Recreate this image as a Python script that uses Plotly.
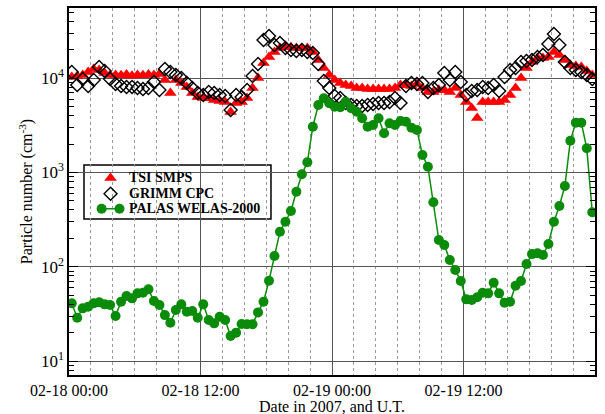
import pandas as pd
import plotly.graph_objects as go

# ---- data (30-min resolution, starting 2007-02-18 00:15) ----
t_start = "2007-02-18 00:15"
n_points = 96
times = pd.date_range(t_start, periods=n_points, freq="30min")

tsi_smps = [10250, 10500, 10760, 11580, 12460, 12160, 11300, 10760, 10800, 10700,
            10900, 10600, 10800, 10700, 10900, 10800, 11030, 9520, 6930, 9520,
            8850, 8030, 6930, 6290, 6140, 6100, 5840, 5700, 5570, 4360,
            5430, 5570, 6140, 7830, 10000, 14420, 16700, 18870, 20800, 21310,
            21200, 20800, 20700, 20800, 18870, 15520, 12770, 10760, 9520, 8850,
            8430, 8230, 7830, 7830, 7640, 7640, 7640, 7640, 7640, 7830,
            8430, 8430, 8230, 8640, 7830, 7100, 7100, 7460, 7460, 7100,
            7830, 6600, 5570, 4810, 3770, 5570, 5570, 5570, 5570, 5840,
            6600, 7830, 10000, 12770, 14780, 16300, 16300, 16700, 18870, 17530,
            15520, 13740, 13400, 13080, 11860, 10760]

grimm_cpc = [11580, 8430, 9760, 8230, 9520, 13080, 11860, 9760, 8640, 8230,
             8030, 8030, 7830, 7640, 7830, 9070, 7460, 12460, 11580, 10760,
             10000, 8850, 7830, 6930, 6600, 7100, 6930, 6600, 6440, 4580,
             6600, 6290, 7460, 10500, 14070, 25290, 27890, 22380, 23500, 20800,
             19810, 19330, 19810, 18870, 18410, 14070, 9290, 7830, 6440, 6140,
             5430, 5170, 5050, 5050, 5170, 5300, 5430, 5430, 5570, 6140,
             5430, 8230, 8850, 8640, 8850, 7100, 7830, 8430, 11300, 9520,
             11580, 9070, 6600, 7280, 7460, 8030, 7830, 8430, 7280, 10250,
             12160, 12770, 14780, 15140, 15520, 16700, 17530, 22930, 29280, 22380,
             14780, 12770, 12160, 11580, 10760, 9760]

palas_welas = [40.9, 28.8, 36.2, 37.6, 40.9, 41.9, 39.9, 39.2, 30.0, 42.5,
               48.9, 46.2, 52.2, 53.0, 57.6, 43.3, 39.2, 30.7, 25.5, 34.7,
               39.9, 33.3, 33.9, 28.8, 39.9, 27.2, 25.1, 29.5, 27.2, 18.4,
               20.0, 24.7, 24.5, 24.5, 32.8, 42.5, 71.1,
               130, 235, 300, 390, 624, 955, 1280, 3050, 5190, 6110,
               5410, 4980, 4900, 5620, 4790, 4400, 3750, 3050, 3180, 3750,
               2600, 3320, 3180, 3510, 3450, 2980, 2820, 1530, 1150, 482,
               192, 170, 118,
               92.2, 70.5, 45.1, 44.3, 47.4, 53.0, 52.2, 67.7, 52.2, 41.5,
               42.5, 62.9, 70.5, 107, 136, 139, 133, 174, 300, 440,
               717, 2170, 3370, 3370, 1800, 378]

series_names = ["TSI SMPS", "GRIMM CPC", "PALAS WELAS-2000"]

x_tickvals = ["2007-02-18 00:00", "2007-02-18 12:00", "2007-02-19 00:00", "2007-02-19 12:00"]
x_ticktext = ["02-18 00:00", "02-18 12:00", "02-19 00:00", "02-19 12:00"]
y_tickvals = [10, 100, 1000, 10000]
y_ticktext = ["10<sup>1</sup>", "10<sup>2</sup>", "10<sup>3</sup>", "10<sup>4</sup>"]
x_title = "Date in 2007, and U.T."
y_title = "Particle number (cm<sup>-3</sup>)"

FONT = "Liberation Serif"
RED = "#ff0000"
GREEN = "#0a8c0a"

tri_marker = dict(symbol="triangle-up", size=11, color=RED, line=dict(width=0))
dia_marker = dict(symbol="diamond-open", size=10, color="black", line=dict(width=1.4, color="black"))
cir_marker = dict(symbol="circle", size=10, color=GREEN)
green_line = dict(color=GREEN, width=1.5)

fig = go.Figure()
fig.add_trace(go.Scatter(x=times, y=tsi_smps, mode="markers", name=series_names[0],
                         marker=tri_marker, showlegend=False))
fig.add_trace(go.Scatter(x=times, y=grimm_cpc, mode="markers", name=series_names[1],
                         marker=dia_marker, showlegend=False))
fig.add_trace(go.Scatter(x=times, y=palas_welas, mode="lines+markers", name=series_names[2],
                         line=green_line, marker=cir_marker, showlegend=False))

# ---- custom legend box (xmgrace style) on a hidden overlay axis pair ----
leg_x0, leg_x1, leg_y0, leg_y1 = 0.0285, 0.384, 0.425, 0.572
row_y = [0.537, 0.494, 0.453]
sym_x = 0.079
text_x = 0.110

fig.add_shape(type="rect", xref="paper", yref="paper",
              x0=leg_x0, x1=leg_x1, y0=leg_y0, y1=leg_y1,
              fillcolor="white", line=dict(color="black", width=1.5), layer="between")

fig.add_trace(go.Scatter(x=[sym_x], y=[row_y[0]], xaxis="x2", yaxis="y2", mode="markers",
                         marker=tri_marker, showlegend=False, hoverinfo="skip", cliponaxis=False))
fig.add_trace(go.Scatter(x=[sym_x], y=[row_y[1]], xaxis="x2", yaxis="y2", mode="markers",
                         marker=dia_marker, showlegend=False, hoverinfo="skip", cliponaxis=False))
fig.add_trace(go.Scatter(x=[sym_x - 0.017, sym_x + 0.017], y=[row_y[2], row_y[2]], xaxis="x2", yaxis="y2",
                         mode="lines+markers", line=green_line, marker=cir_marker,
                         showlegend=False, hoverinfo="skip", cliponaxis=False))
for name, ry in zip(series_names, row_y):
    fig.add_annotation(x=text_x, y=ry, xref="paper", yref="paper", text="<b>%s</b>" % name,
                       showarrow=False, xanchor="left", yanchor="middle",
                       font=dict(family=FONT, size=14, color="black"))

# x-axis title as an annotation, placed below the tick labels
fig.add_annotation(x=0.5, y=-0.086, xref="paper", yref="paper", text=x_title,
                   showarrow=False, xanchor="center", yanchor="middle",
                   font=dict(family=FONT, size=16, color="black"))

fig.update_layout(
    width=605, height=414,
    margin=dict(l=69, r=10, t=8, b=39),
    paper_bgcolor="white", plot_bgcolor="white",
    font=dict(family=FONT, color="black", size=16),
    showlegend=False,
    xaxis2=dict(overlaying="x", range=[0, 1], visible=False, fixedrange=True),
    yaxis2=dict(overlaying="y", range=[0, 1], visible=False, fixedrange=True),
)

fig.update_layout(xaxis=dict(
    type="date",
    range=["2007-02-18 00:00", "2007-02-20 00:00"],
    tickmode="array", tickvals=x_tickvals, ticktext=x_ticktext,
    showgrid=True, gridcolor="#555555", gridwidth=1,
    showline=True, linecolor="black", linewidth=1.5, mirror=True,
    ticks="", tickfont=dict(family=FONT, size=16),
    minor=dict(tickmode="linear", tick0="2007-02-18 00:00", dtick=7200000,
               showgrid=True, gridcolor="#9a9a9a", griddash="dot", gridwidth=1),
    automargin=False,
    zeroline=False,
))

fig.update_layout(yaxis=dict(
    type="log",
    range=[0.852, 4.743],
    tickmode="array", tickvals=y_tickvals, ticktext=y_ticktext,
    showgrid=True, gridcolor="#555555", gridwidth=1,
    showline=True, linecolor="black", linewidth=1.5, mirror="ticks",
    ticks="inside", ticklen=9, tickcolor="black", tickwidth=1,
    tickfont=dict(family=FONT, size=17),
    minor=dict(ticks="inside", ticklen=5, tickcolor="black", dtick="D1", showgrid=False),
    title=dict(text=y_title, font=dict(family=FONT, size=16), standoff=4),
    automargin=False,
    zeroline=False,
))

fig.write_html("out.html")
